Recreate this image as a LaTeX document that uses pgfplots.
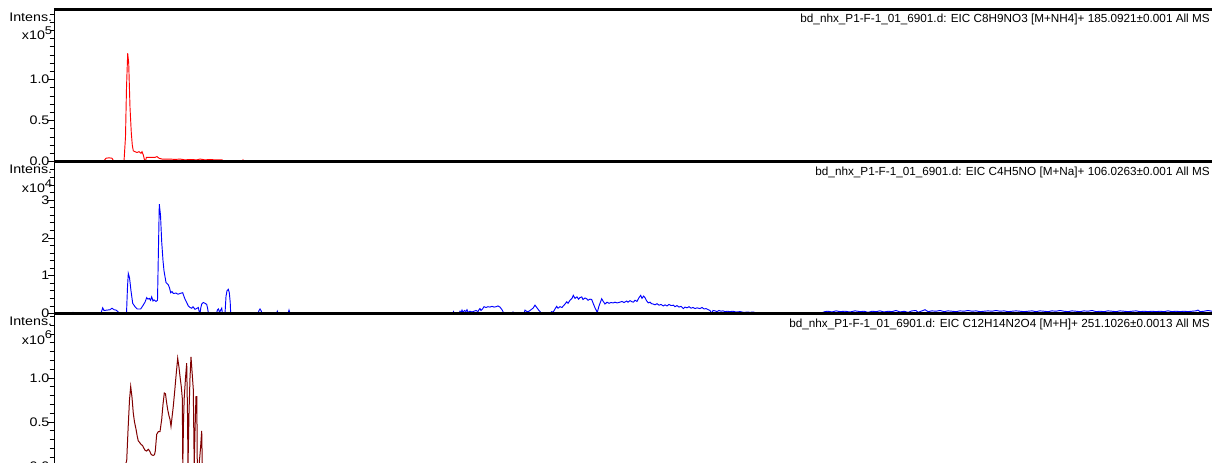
\documentclass[border=0pt]{standalone}
\usepackage{graphicx}
\usepackage{pgfplots}
\pgfplotsset{compat=1.18}
\usepackage{fontspec}
\setmainfont{Liberation Sans}
\definecolor{dred}{RGB}{128,0,0}
\newcommand{\tfont}{\fontsize{8.8}{9}\selectfont}
\newcommand{\lfont}{\fontsize{9.3}{10}\selectfont}
\newcommand{\sx}[1]{\scalebox{1.15}[1]{#1}}
\pgfplotsset{
  chrom/.style={
    scale only axis, width=883.5pt, xmin=54, xmax=1232,
    anchor=south west, separate axis lines,
    x axis line style={line width=1.7pt},
    y axis line style={line width=0.6pt},
    xtick=\empty, ytick pos=left, tick align=outside,
    major tick length=4.5pt, minor tick length=3.2pt,
    tick style={black, line width=0.5pt},
    /pgf/number format/assume math mode=true,
    yticklabel style={font=\lfont, xshift=4.6pt},
    clip=true,
  }
}
\begin{document}
\begin{tikzpicture}
\useasboundingbox (0,0) rectangle (909pt,346.5pt);
\clip (0,0) rectangle (909pt,346.5pt);

% Panel 1
\begin{axis}[chrom, name=p1, at={(40.5pt,225.375pt)}, height=114pt,
  ymin=0, ymax=1.854,
  ytick={0,0.5,1.0},
  yticklabel={\sx{\pgfmathprintnumber[fixed,precision=1,fixed zerofill]{\tick}}},
  minor ytick={0.1,0.2,0.3,0.4,0.6,0.7,0.8,0.9,1.1,1.2,1.3,1.4,1.5,1.6,1.7,1.8}]
\addplot[red, line width=0.7pt] coordinates {
(54,0) (100,0) (104,0.01) (106,0.04) (109,0.045) (112,0.04) (114,0.0) (124,0.0)
(125.5,0.3) (126.5,0.9) (127.7,1.32) (128.7,1.2) (130,0.66) (131.3,0.35) (132.3,0.2)
(133.3,0.13) (135,0.12) (137,0.11) (139,0.12) (141,0.1) (142,0.12) (143.3,0.08)
(144.5,0.02) (145.5,0.0) (146.3,0.05) (150,0.05) (155,0.05) (157,0.06) (159,0.04)
(162,0.03) (170,0.03) (175,0.025) (180,0.03) (185,0.02) (190,0.025) (197,0.02)
(200,0.03) (205,0.02) (210,0.025) (215,0.02) (222,0.02) (224,0.005) (230,0)
(242,0) (243,0.02) (244,0) (1232,0)};
\end{axis}
\node[anchor=east, font=\lfont, inner sep=0pt] at ([xshift=-1.2pt,yshift=-6pt]p1.north west) {\sx{Intens.}};
\node[anchor=east, font=\lfont, inner sep=0pt] at ([xshift=-1.2pt,yshift=-18pt]p1.north west) {\sx{x10\raisebox{0.42em}{\fontsize{8.4}{8}\selectfont 5}}};
\node[anchor=east, font=\tfont, inner sep=0pt] at ([xshift=867pt,yshift=-7.5pt]p1.north west) {bd\_nhx\_P1-F-1\_01\_6901.d: EIC C8H9NO3 [M+NH4]+ 185.0921±0.001 All MS};

% Panel 2
\begin{axis}[chrom, name=p2, at={(40.5pt,111.375pt)}, height=114pt,
  ymin=0, ymax=4.02,
  ytick={0,1,2,3},
  yticklabel={\sx{\pgfmathprintnumber{\tick}}},
  minor ytick={0.2,0.4,0.6,0.8,1.2,1.4,1.6,1.8,2.2,2.4,2.6,2.8,3.2,3.4,3.6,3.8}]
\addplot[blue, line width=0.7pt] coordinates {
(54,0) (72,0) (73,0.03) (75,0) (80,0.02) (82,0) (88,0.02) (90,0) (96,0.02) (98,0)
(101,0.01) (102.7,0.15) (104,0.08) (107,0.09) (110,0.1) (112,0.14) (114,0.1)
(116,0.09) (118,0.05) (119,0) (126.5,0) (127.5,0.7) (128.3,1.06) (129.5,0.95)
(131,0.6) (132.7,0.27) (135,0.18) (137.3,0.12) (140.7,0.12) (142.7,0.2) (145,0.3)
(146.7,0.42) (148,0.38) (149.3,0.4) (150.5,0.35) (151.7,0.44) (153,0.33) (154,0.36)
(156,0.32) (157.5,0.35) (158.3,1.5) (159.3,2.89) (160.5,2.6) (161.7,1.9) (163,1.4)
(164,1.13) (166,0.82) (168.3,0.76) (169.5,0.68) (170.7,0.55) (172,0.58) (173.3,0.53)
(176,0.54) (178,0.51) (180,0.53) (182.7,0.55) (184,0.45) (185,0.38) (186.5,0.3)
(188.3,0.2) (190,0.16) (191.7,0.14) (193,0.18) (195,0.11) (196.5,0.13) (198.3,0.16)
(199.2,0.05) (200,0) (200.8,0.15) (201.7,0.25) (203.3,0.29) (205,0.27) (206.7,0.24)
(207.5,0.15) (208.3,0.03) (209,0) (216.5,0) (217.5,0.1) (218.5,0.12) (219.5,0.03)
(220.5,0.08) (221.7,0.14) (222.5,0) (225,0) (226,0.45) (227,0.6) (228.3,0.64)
(229.3,0.55) (230.2,0.3) (230.7,0) (258,0) (259,0.08) (260,0.12) (261,0.08) (262,0)
(276.5,0) (277.3,0.06) (278,0) (288,0) (289,0.09) (290,0) (453,0) (453.5,0.05)
(454.5,0) (459,0) (460,0.06) (461,0.02) (462,0.09) (463,0.03) (464.5,0.08) (466,0.05)
(467,0.1) (468,0.03) (470,0.06) (472,0.04) (474,0.06) (476,0.08) (478,0.05) (479,0.1)
(480,0.13) (481,0.08) (482.5,0.12) (484,0.18) (486,0.16) (488,0.18) (490,0.17)
(492,0.19) (494,0.17) (496,0.18) (498,0.2) (500,0.17) (502,0.1) (503,0.05) (504,0.0)
(512,0) (513,0.04) (514,0) (524,0) (525,0.09) (527,0.05) (529,0.06) (531,0.1)
(533,0.14) (535,0.22) (537,0.15) (539,0.08) (540,0.05) (541.7,0) (550,0) (551.7,0.05)
(553,0.03) (555,0.12) (556.7,0.19) (558,0.14) (560,0.18) (562,0.16) (563.3,0.2)
(565,0.25) (566.7,0.31) (568,0.27) (570,0.35) (572,0.4) (573.3,0.48) (575,0.4)
(577,0.44) (578.5,0.38) (580,0.42) (581.7,0.44) (583,0.37) (585,0.41) (586.7,0.39)
(588,0.35) (590,0.38) (591.7,0.37) (593.3,0.26) (595,0.15) (597.3,0.03) (599,0.2)
(601.7,0.39) (603,0.33) (605,0.25) (607,0.3) (609,0.27) (611,0.29) (613.3,0.28)
(615,0.3) (617,0.28) (620,0.3) (622,0.32) (624,0.29) (626.7,0.33) (628,0.3)
(630,0.34) (632,0.31) (633.3,0.3) (635,0.35) (637,0.32) (639,0.42) (640.7,0.48)
(642,0.4) (643.5,0.46) (645,0.42) (646.5,0.34) (648.3,0.28) (650,0.3) (651.5,0.26)
(653.3,0.25) (655,0.23) (657,0.26) (659,0.22) (661,0.24) (663.3,0.2) (665,0.23)
(667,0.2) (669,0.24) (671,0.21) (673.3,0.22) (675,0.18) (677,0.21) (679,0.17)
(681,0.19) (683.3,0.13) (685,0.17) (687,0.15) (689,0.18) (691,0.14) (693,0.16)
(695,0.13) (697,0.15) (700,0.13) (702,0.16) (704,0.12) (706,0.13) (708.3,0.1)
(710,0.08) (711.7,0) (713,0.08) (715,0.07) (717,0.05) (719,0.08) (721,0.06)
(723,0.07) (725,0.05) (727,0.06) (730,0.05) (733,0.06) (736,0.04) (740,0.05)
(744,0.03) (748,0.04) (750,0.03) (753,0.04) (756,0.02) (760,0) (765,0.02) (767,0)
(775,0.02) (777,0) (785,0.02) (787,0) (796,0.02) (798,0) (820,0) (822,0.02)
(825,0.05) (828,0.06) (832,0.04) (836,0.07) (840,0.05) (845,0.06) (850,0.04)
(855,0.07) (860,0.05) (864,0.06) (868,0.03) (872,0.06) (876,0.05) (880,0.07)
(884,0.04) (888,0.06) (892,0.05) (896,0.08) (900,0.04) (904,0.06) (908,0.03)
(912,0.07) (916,0.08) (918,0.03) (921,0.06) (925,0.1) (928,0.05) (932,0.07)
(936,0.06) (940,0.08) (944,0.05) (948,0.07) (952,0.06) (956,0.05) (960,0.07)
(964,0.06) (968,0.08) (972,0.06) (976,0.07) (980,0.05) (984,0.06) (988,0.07)
(992,0.06) (996,0.08) (1000,0.06) (1004,0.07) (1008,0.05) (1012,0.06) (1016,0.07)
(1020,0.06) (1024,0.05) (1028,0.06) (1032,0.07) (1036,0.05) (1040,0.07) (1044,0.06)
(1048,0.05) (1052,0.07) (1056,0.06) (1060,0.08) (1064,0.06) (1068,0.05) (1072,0.07)
(1076,0.06) (1080,0.05) (1084,0.07) (1088,0.06) (1092,0.08) (1096,0.05) (1100,0.06)
(1104,0.05) (1108,0.07) (1112,0.06) (1116,0.05) (1120,0.07) (1124,0.06) (1128,0.05)
(1132,0.06) (1136,0.07) (1140,0.05) (1144,0.06) (1148,0.05) (1152,0.06) (1156,0.05)
(1160,0.06) (1164,0.05) (1168,0.07) (1172,0.05) (1176,0.06) (1180,0.05) (1184,0.06)
(1188,0.05) (1192,0.06) (1196,0.07) (1198,0.09) (1200,0.05) (1204,0.06) (1208,0.08)
(1212,0.06) (1232,0.05)};
\end{axis}
\node[anchor=east, font=\lfont, inner sep=0pt] at ([xshift=-1.2pt,yshift=-6pt]p2.north west) {\sx{Intens.}};
\node[anchor=east, font=\lfont, inner sep=0pt] at ([xshift=-1.2pt,yshift=-18.5pt]p2.north west) {\sx{x10\raisebox{0.42em}{\fontsize{8.4}{8}\selectfont 4}}};
\node[anchor=east, font=\tfont, inner sep=0pt] at ([xshift=867pt,yshift=-8pt]p2.north west) {bd\_nhx\_P1-F-1\_01\_6901.d: EIC C4H5NO [M+Na]+ 106.0263±0.001 All MS};

% Panel 3
\begin{axis}[chrom, name=p3, at={(40.5pt,-3pt)}, height=114.75pt,
  ymin=0, ymax=1.739,
  ytick={0,0.5,1.0},
  yticklabel={\sx{\pgfmathprintnumber[fixed,precision=1,fixed zerofill]{\tick}}},
  minor ytick={0.1,0.2,0.3,0.4,0.6,0.7,0.8,0.9,1.1,1.2,1.3,1.4,1.5,1.6,1.7}]
\addplot[dred, line width=0.75pt] coordinates {
(54,0) (125,0) (126.7,0.06) (128,0.4) (129.5,0.75) (130.7,0.905) (132,0.78)
(133.3,0.6) (134.5,0.5) (136,0.42) (137.2,0.34) (138.3,0.285) (139.5,0.27)
(140.7,0.25) (142.7,0.23) (144,0.2) (145,0.18) (146.5,0.17) (148.3,0.19) (149.7,0.17)
(151,0.135) (152,0.125) (153.3,0.12) (154.5,0.13) (155.3,0.17) (156.7,0.36)
(158.3,0.39) (160,0.39) (161.7,0.53) (163,0.7) (164.3,0.83) (165.5,0.82) (166.5,0.73)
(167.7,0.64) (169,0.57) (170,0.53) (171,0.45) (172,0.55) (173.3,0.68) (174.7,0.85)
(176,1.02) (177.7,1.225) (179,1.12) (180,1.02) (181.3,0.9) (182.3,0.77) (182.8,0)
(183.5,0.5) (184.2,0.77) (185.5,1.0) (186.7,1.17) (187.5,0.6) (188,0) (189,0.6)
(190,1.0) (191,1.24) (192.2,1.05) (193.3,0.87) (194.2,0) (195,0.4) (196,0.79)
(196.8,0.79) (197.3,0) (199,0) (200.5,0.2) (201.7,0.4) (202.3,0) (204,0) (1232,0)};
\end{axis}
\node[anchor=east, font=\lfont, inner sep=0pt] at ([xshift=-1.2pt,yshift=-6pt]p3.north west) {\sx{Intens.}};
\node[anchor=east, font=\lfont, inner sep=0pt] at ([xshift=-1.2pt,yshift=-18.5pt]p3.north west) {\sx{x10\raisebox{0.42em}{\fontsize{8.4}{8}\selectfont 6}}};
\node[anchor=east, font=\tfont, inner sep=0pt] at ([xshift=867pt,yshift=-8.5pt]p3.north west) {bd\_nhx\_P1-F-1\_01\_6901.d: EIC C12H14N2O4 [M+H]+ 251.1026±0.0013 All MS};
\end{tikzpicture}
\end{document}
